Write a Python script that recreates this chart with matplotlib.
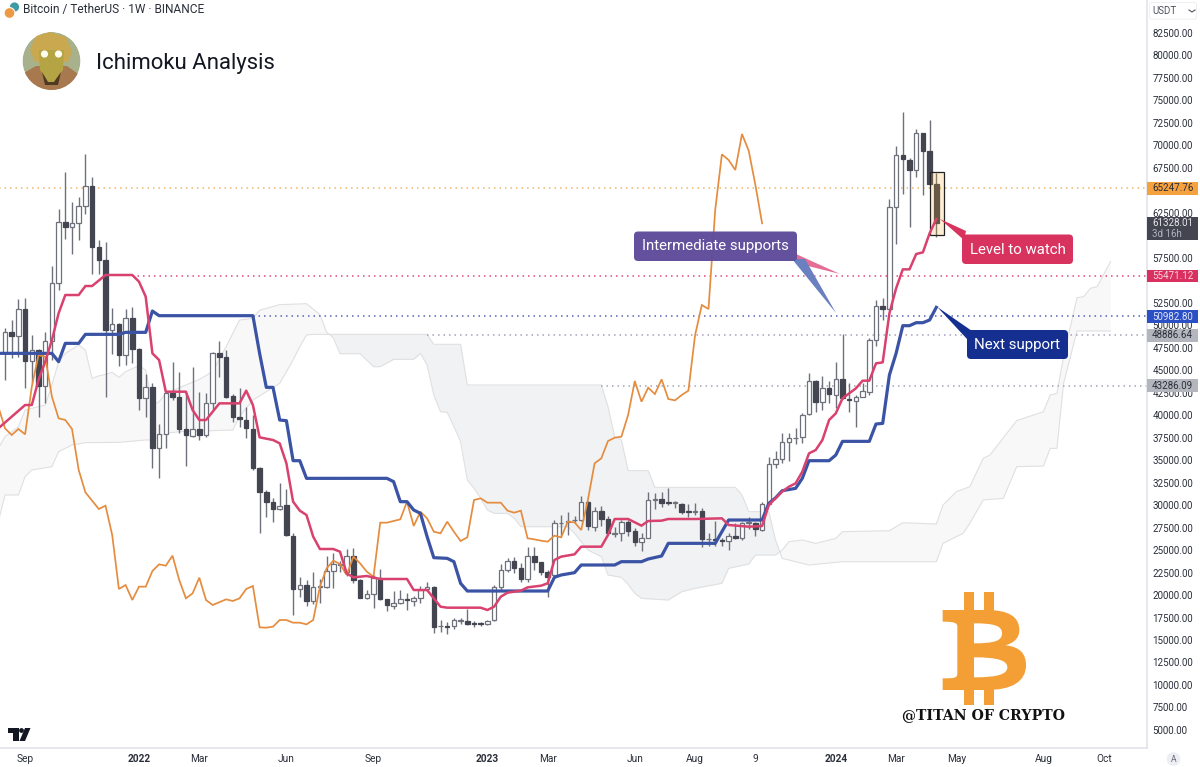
import numpy as np
import matplotlib
matplotlib.use("Agg")
import matplotlib.pyplot as plt
from matplotlib.patches import Circle, FancyBboxPatch, PathPatch, Polygon, Rectangle
from matplotlib.path import Path

plt.rcParams['font.family'] = ['Roboto', 'DejaVu Sans']

# weekly candles, one value per bar
opens = [46877, 49287, 48842, 51807, 46062, 47248, 43244, 48249, 54662, 61520,
         60890, 61335, 63299, 65523, 58665, 57257, 49472, 50102, 46692, 50769,
         47322, 41873, 43096, 36312, 37906, 42429, 42058, 38425, 37721, 38425,
         37795, 41317, 46877, 46432, 42132, 39760, 39463, 38499, 34091, 31422,
         30384, 29531, 29976, 26603, 20672, 21079, 19374, 20931, 20931, 22674,
         23378, 22599, 24379, 21673, 19634, 20078, 21932, 19522, 18818, 19152,
         19522, 19300, 19708, 20672, 20931, 16520, 16557, 16557, 17113, 17150,
         16891, 16854, 16742, 17187, 20931, 22785, 23823, 22970, 21784, 24342,
         23637, 22525, 22229, 27975, 28123, 28308, 28345, 30384, 27604, 29346,
         28493, 26788, 26937, 28160, 27159, 25936, 26380, 30569, 30680, 30310,
         30273, 30125, 29346, 29235, 29346, 26195, 26195, 26084, 26010, 26566,
         26306, 28012, 27975, 27233, 30087, 34568, 35088, 37053, 37424, 37535,
         40093, 43837, 41427, 42984, 42280, 43985, 41761, 41612, 42058, 42613,
         48360, 52141, 51770, 63113, 68933, 68377, 67265, 71343, 69378, 65708]
highs = [49657, 50584, 52883, 52994, 48916, 47400, 49287, 56590, 62928, 67006,
         63744, 64300, 69045, 66450, 59481, 59222, 51956, 50213, 51807, 52067,
         47500, 44541, 43541, 38981, 42600, 45876, 44764, 42614, 45394, 42614,
         42429, 47063, 48249, 47248, 42354, 42985, 40946, 40019, 34276, 31682,
         30755, 32497, 31755, 26862, 21969, 21673, 22599, 21747, 24342, 24712,
         23823, 25120, 25268, 21750, 20560, 22229, 22859, 19600, 20486, 20560,
         20264, 19893, 21042, 21487, 21000, 17224, 17039, 17409, 17484, 18447,
         17150, 17039, 17200, 21116, 23452, 24082, 24268, 23526, 25305, 25305,
         23700, 22785, 28345, 28901, 29198, 28790, 31014, 30450, 29828, 29902,
         28790, 27604, 28345, 28345, 27418, 26862, 31496, 31385, 31496, 31867,
         30495, 30199, 30125, 30273, 29643, 26862, 28234, 26306, 26862, 28049,
         28160, 28642, 28160, 30384, 35314, 36052, 37980, 37980, 38536, 40278,
         44727, 43900, 44356, 43800, 45876, 48990, 43541, 42243, 43541, 48545,
         52808, 52993, 64040, 69971, 73753, 68563, 71788, 71400, 72826, 66969]
lows = [43912, 46321, 46506, 42985, 43541, 39760, 41317, 46136, 53921, 59592,
        57924, 59481, 62372, 55663, 55663, 42058, 46803, 45506, 45580, 45765,
        40575, 39760, 34088, 32976, 36312, 41687, 38054, 34385, 37610, 37239,
        37610, 40575, 44282, 41873, 39278, 38722, 37498, 33902, 26862, 28716,
        28160, 29457, 26600, 17780, 19745, 18781, 19003, 19078, 20800, 20820,
        22599, 22117, 21302, 19634, 19560, 18596, 19448, 18262, 18447, 19003,
        18336, 18781, 19152, 20449, 15741, 15927, 15630, 16223, 16779, 16668,
        16483, 16557, 16700, 17150, 20560, 22599, 22488, 21487, 21487, 22785,
        22229, 19819, 22100, 26492, 26677, 27975, 28250, 27233, 27159, 27678,
        26862, 26492, 26010, 26566, 25454, 24935, 26306, 29568, 29828, 30013,
        29643, 29012, 28642, 28901, 25305, 25454, 25454, 25454, 25009, 26232,
        26121, 27307, 26566, 27159, 30000, 34088, 34644, 34939, 36794, 36868,
        40019, 40389, 40575, 41390, 40760, 41800, 40389, 38646, 41984, 42243,
        47730, 50584, 51700, 59036, 64596, 60889, 66450, 64485, 65600, 59777]
closes = [49287, 48842, 51807, 46062, 47248, 43244, 48249, 54662, 61520, 60890,
          61335, 63299, 65523, 58665, 57257, 49472, 50102, 46692, 50769, 47322,
          41873, 43096, 36312, 37906, 42429, 42058, 38425, 37795, 38425, 37795,
          41317, 46877, 46432, 42058, 39760, 39537, 38536, 34088, 31422, 30384,
          29568, 29939, 26677, 20672, 21079, 19374, 20931, 21005, 22674, 23415,
          23452, 24379, 21673, 19708, 20078, 21932, 19522, 18892, 19152, 19522,
          19411, 19708, 20560, 20931, 16483, 16594, 16446, 17224, 17187, 16779,
          16817, 16779, 17150, 20931, 22785, 23823, 22970, 21784, 24342, 23637,
          22525, 22043, 28049, 28049, 28197, 28382, 30384, 27678, 29346, 28493,
          26937, 26937, 28160, 27159, 25936, 26380, 30569, 30680, 30199, 30236,
          30347, 29272, 29235, 29346, 26269, 26269, 26121, 26010, 26566, 26306,
          28049, 28086, 27307, 30087, 34573, 35088, 37053, 37424, 37498, 40019,
          43837, 41427, 42984, 42354, 43985, 41872, 41650, 42058, 42650, 48360,
          52141, 51770, 63113, 68933, 68451, 67265, 71343, 69378, 65708, 61328]

# ichimoku lines, bar number and value at each vertex
red_bars = [-1, 3, 4, 5, 6, 7, 8, 9, 11, 12, 13, 15, 19, 20, 21, 22, 23, 24, 27, 28, 29, 30,
            32, 35, 36, 37, 38, 40, 41, 42, 43, 44, 45, 46, 47, 49, 50, 51, 52, 54, 56, 60,
            61, 63, 64, 65, 66, 71, 72, 73, 74, 75, 77, 78, 80, 81, 82, 83, 85, 86, 89, 90,
            91, 93, 95, 96, 98, 99, 103, 107, 108, 111, 113, 114, 116, 117, 118, 119, 120,
            121, 122, 123, 124, 125, 126, 127, 128, 129, 130, 131, 132, 133, 134, 135, 136,
            137, 138, 139]
red_line = [38537, 41131, 41131, 43912, 45950, 48360, 51326, 53364, 53364, 54365, 54365, 55589,
            55589, 54847, 53179, 46877, 46136, 42614, 42614, 40575, 39463, 39463, 41317, 41317,
            42725, 41131, 37536, 37242, 36871, 34647, 30384, 29383, 28901, 26492, 25120, 25120,
            24823, 22414, 21969, 22117, 21784, 21784, 20560, 20560, 19634, 18707, 18596, 18596,
            18336, 18707, 19819, 20264, 20486, 20857, 21042, 21302, 23897, 24268, 24527, 25380,
            25380, 26677, 28456, 28456, 27715, 28234, 28271, 28456, 28456, 28530, 27789, 27604,
            27678, 30013, 31500, 32049, 32420, 33717, 35756, 36126, 37239, 39463, 40204, 41872,
            42428, 42984, 43837, 43837, 45765, 45876, 51325, 54105, 56218, 56218, 57924, 58109,
            60222, 61816]
blue_bars = [-1, 7, 8, 9, 11, 12, 17, 18, 21, 22, 23, 37, 38, 39, 40, 41, 42, 43, 44, 45, 57,
             58, 59, 60, 61, 62, 63, 64, 66, 67, 68, 69, 81, 82, 83, 85, 86, 91, 92, 95, 96,
             98, 99, 106, 108, 113, 114, 115, 116, 118, 119, 120, 123, 124, 125, 129, 130,
             131, 132, 133, 134, 135, 136, 137, 138, 139]
blue_line = [46877, 46877, 45950, 47989, 47989, 48990, 48990, 49212, 49212, 51585, 51066, 51066,
             46877, 43096, 43096, 39463, 39389, 34941, 34941, 32976, 32979, 32608, 30384, 30384,
             29457, 29087, 26492, 24156, 24082, 23711, 21302, 20449, 20449, 21969, 22229, 22488,
             23341, 23341, 23711, 23711, 24008, 24342, 25750, 25750, 28345, 28345, 30199, 30800,
             31603, 31864, 32976, 34939, 34939, 35570, 37090, 37090, 39018, 39092, 44467, 46877,
             49954, 49954, 50287, 50287, 50584, 51992]
orange_bars = [-1, 0, 1, 2, 3, 4, 5, 6, 7, 8, 9, 10, 11, 12, 14, 15, 16, 17, 18, 19, 20, 21, 22,
               23, 24, 25, 26, 27, 28, 29, 30, 31, 33, 34, 35, 36, 37, 38, 39, 40, 41, 42, 43,
               44, 45, 46, 47, 48, 49, 50, 51, 52, 53, 54, 55, 56, 57, 58, 59, 60, 61, 62, 63,
               64, 65, 66, 67, 68, 69, 70, 71, 72, 74, 75, 76, 77, 78, 79, 80, 81, 82, 83, 84,
               85, 86, 87, 88, 89, 90, 91, 92, 93, 94, 95, 96, 97, 98, 99, 100, 101, 102, 103,
               104, 105, 106, 107, 108, 109, 110, 111, 112, 113]
orange_line = [40946, 38539, 37798, 38465, 37872, 43170, 46691, 46506, 42058, 39651, 39466, 38465,
               33905, 31422, 29568, 29939, 26677, 20671, 21116, 19448, 20931, 20931, 22673, 23415,
               23266, 24378, 21672, 19633, 20189, 21931, 19448, 18892, 19522, 19337, 19633, 20671,
               21005, 16408, 16371, 16482, 17224, 17224, 16927, 16927, 16742, 17224, 20931, 22970,
               23823, 23452, 22229, 24268, 23526, 22599, 22043, 28049, 28049, 28234, 28419, 30384,
               27678, 29272, 28530, 27048, 26862, 28160, 27048, 26010, 26417, 30569, 30755, 30273,
               30273, 29383, 29161, 29383, 26306, 26195, 26047, 25936, 26602, 26417, 28158, 28084,
               27232, 30568, 34646, 35202, 37127, 37498, 37610, 40018, 43800, 41501, 43058, 42354,
               43985, 41798, 41650, 42243, 42725, 48915, 52252, 51807, 62817, 69008, 68378, 67265,
               71269, 69416, 65597, 61334]
span_a_bars = [-1, 0, 2, 3, 6, 7, 8, 9, 11, 12, 13, 14, 15, 16, 17, 18, 20, 21, 22, 23, 24, 29,
               31, 33, 35, 37, 38, 41, 45, 47, 48, 49, 50, 53, 55, 56, 58, 61, 62, 63, 64, 65,
               66, 67, 68, 69, 70, 71, 72, 73, 75, 76, 77, 84, 85, 87, 89, 90, 92, 93, 94, 95,
               99, 101, 103, 107, 108, 111, 112, 115, 116, 117, 119, 121, 124, 125, 132, 134,
               139, 140, 142, 144, 146, 147, 151, 155, 156, 157, 158, 160, 161, 162, 163, 165]
span_a = [36312, 37611, 38722, 40575, 41131, 43355, 45950, 46877, 47804, 47248, 44097, 44370,
          44541, 44764, 44208, 44838, 45506, 45024, 41131, 41502, 42429, 43985, 44838, 47618,
          50584, 50769, 51677, 52290, 52400, 51195, 49231, 48601, 46840, 46840, 45396, 45396,
          46212, 46212, 46879, 45581, 42245, 40392, 40318, 38723, 37055, 32792, 31866, 30753,
          29456, 29085, 29085, 28529, 27602, 27602, 26862, 25009, 24268, 22229, 21969, 21191,
          20190, 19634, 19448, 20375, 20746, 21302, 22970, 23452, 24453, 24453, 25000, 25934,
          26119, 25748, 26304, 27046, 27157, 28046, 27898, 30011, 31494, 32050, 35201, 35572,
          39390, 40391, 42245, 42430, 46507, 53069, 53180, 54107, 54292, 57073]
span_b_bars = [-1, 0, 2, 3, 4, 7, 8, 10, 12, 17, 21, 22, 24, 26, 34, 35, 37, 39, 41, 43, 44, 45,
               46, 63, 64, 68, 69, 89, 90, 91, 92, 93, 96, 97, 109, 110, 111, 114, 115, 116,
               120, 125, 139, 140, 143, 144, 146, 149, 151, 155, 156, 157, 158, 160, 165]
span_b = [28159, 31125, 31125, 33164, 33905, 34276, 35944, 36686, 36945, 36982, 37242, 37239,
          37980, 38166, 38351, 39833, 41687, 42614, 43541, 46136, 47618, 48916, 48990, 48990,
          47880, 47880, 43357, 43357, 40948, 37611, 37242, 33832, 33832, 31978, 31978, 31125,
          29272, 29272, 26121, 24080, 23339, 23709, 23709, 25748, 26860, 27973, 30568, 30753,
          34274, 34348, 36313, 36313, 43542, 49362, 49362]

# horizontal levels: price, first bar, line colour, badge colour, text colour
level_prices = [65247.76, 55471.12, 50982.80, 48886.64, 43286.09]
level_starts = [-1, 19, 37, 63, 89]
level_colors = ['#f0b76a', '#e04a78', '#5a63b5', '#a99fba', '#a9a3b4']
badge_colors = ['#f5a13d', '#d9305f', '#2b4fc4', '#b4b6bd', '#b4b6bd']
badge_text = ['#2a2e39', '#f7d5df', '#dfe6fb', '#2a2e39', '#2a2e39']

# 65000, 60000 and 55000 sit behind the badges in the reference
price_ticks = [5000, 7500, 10000, 12500, 15000, 17500, 20000, 22500, 25000, 27500, 30000,
               32500, 35000, 37500, 40000, 42500, 45000, 47500, 50000, 52500, 57500, 62500,
               67500, 70000, 72500, 75000, 77500, 80000, 82500]
time_bars = [3, 20, 29, 42, 55, 72, 81, 94, 103, 112, 124, 133, 142, 155, 164]
time_labels = ['Sep', '2022', 'Mar', 'Jun', 'Sep', '2023', 'Mar', 'Jun', 'Aug', '9',
               '2024', 'Mar', 'May', 'Aug', 'Oct']

last_price = 61328.01


def rounded(ax, x0, y0, x1, y1, r, color, z=5, alpha=1.0):
    box = FancyBboxPatch((x0 + r, y0 + r), x1 - x0 - 2 * r, y1 - y0 - 2 * r,
                         boxstyle=f"round,pad={r},rounding_size={r}",
                         fc=color, ec='none', zorder=z, alpha=alpha)
    ax.add_patch(box)


fig = plt.figure(figsize=(12, 7.67), dpi=100, facecolor='white')
ax = fig.add_axes([0, 19 / 767, 1146.5 / 1200, 748 / 767])
ax.set_xlim(-5 / 6.7, 1141.5 / 6.7)
ax.set_ylim(82500 - 715 * 111.2, 82500 + 33 * 111.2)

# cloud
grid = np.union1d(span_a_bars, span_b_bars)
a_vals = np.interp(grid, span_a_bars, span_a)
b_vals = np.interp(grid, span_b_bars, span_b)
ax.fill_between(grid, a_vals, b_vals, where=a_vals >= b_vals, interpolate=True,
                color='#f8f8f9', lw=0, zorder=1)
ax.fill_between(grid, a_vals, b_vals, where=a_vals < b_vals, interpolate=True,
                color='#f1f2f4', lw=0, zorder=1)
ax.plot(span_a_bars, span_a, color='#dfe0e2', lw=0.8, zorder=1.5)
ax.plot(span_b_bars, span_b, color='#dfe0e2', lw=0.8, zorder=1.5)

for price, start, col in zip(level_prices, level_starts, level_colors):
    ax.plot([start, 171], [price, price], color=col, lw=1.1,
            linestyle=(0, (1, 2.6)), zorder=2)

# candles
bars = np.arange(len(closes))
o = np.array(opens)
c = np.array(closes)
up = c >= o
ax.vlines(bars, lows, highs, color='#6e717b', lw=1.0, zorder=3)
ax.bar(bars[up], (c - o)[up], bottom=o[up], width=0.68, color='white',
       edgecolor='#6e717b', linewidth=0.9, zorder=4)
ax.bar(bars[~up], (c - o)[~up], bottom=o[~up], width=0.68, color='#434651',
       edgecolor='#434651', linewidth=0.9, zorder=4)

# highlight around the last candle
ax.add_patch(Rectangle((138.06, 60000), 2.09, 7043, fc=(0.96, 0.65, 0.14, 0.2),
                       ec='#222222', lw=0.9, zorder=4.5))

ax.plot(orange_bars, orange_line, color='#e58c3e', lw=1.25, zorder=5,
        solid_joinstyle='miter')
ax.plot(blue_bars, blue_line, color='#3a53a4', lw=2.3, zorder=6)
ax.plot(red_bars, red_line, color='#d9416f', lw=1.8, zorder=7)

# axes
for side in ['top', 'left']:
    ax.spines[side].set_visible(False)
for side in ['right', 'bottom']:
    ax.spines[side].set_color('#dfe2e8')
    ax.spines[side].set_linewidth(1.1)
ax.yaxis.tick_right()
ax.set_yticks(price_ticks)
ax.set_yticklabels([f"{v:.2f}" for v in price_ticks], fontsize=7.05, color='#2a2e39')
ax.tick_params(axis='y', length=0, pad=4.2)
ax.set_xticks(time_bars)
ax.set_xticklabels(time_labels, fontsize=7.3, color='#2a2e39')
ax.tick_params(axis='x', length=0, pad=4.5)
for lab in ax.get_xticklabels():
    if lab.get_text().startswith('20'):
        lab.set_fontweight('bold')

# pixel overlay for badges, callouts and logos
ov = fig.add_axes([0, 0, 1, 1], facecolor='none')
ov.set_xlim(0, 1200)
ov.set_ylim(767, 0)
ov.axis('off')
fig.canvas.draw()


def price_y(price):
    return 767 - ax.transData.transform((0, price))[1]


for price, col, tcol in zip(level_prices, badge_colors, badge_text):
    y = price_y(price)
    ov.add_patch(Rectangle((1147, y - 6.4), 51, 12.8, fc=col, ec='none', zorder=3))
    ov.text(1152, y + 0.2, f"{price:.2f}", fontsize=7.05, color=tcol, va='center', zorder=4)

ov.add_patch(Rectangle((1147, 217), 51, 23, fc='#434651', ec='none', zorder=3))
ov.text(1152, 222.6, f"{last_price:.2f}", fontsize=7.05, color='#e6e7ea', va='center', zorder=4)
ov.text(1152, 234, "3d 16h", fontsize=7.05, color='#b2b5be', va='center', zorder=4)

# callouts
ov.add_patch(Polygon([(796, 254), (796, 263), (840, 274)], fc='#e56c93', ec='none', zorder=2))
ov.add_patch(Polygon([(792, 259), (805, 259), (836, 313)], fc='#6b80c0', ec='none', zorder=2.5))
rounded(ov, 634, 231.5, 797, 261, 4, '#5f4b9b', z=3, alpha=0.97)
ov.text(715.5, 246, "Intermediate supports", fontsize=10.8, color='white',
        ha='center', va='center', zorder=4)

ov.add_patch(Polygon([(940, 219), (966, 231), (964, 240)], fc='#d8325f', ec='none', zorder=2))
rounded(ov, 962, 234.5, 1073, 264, 4, '#d8325f', z=3)
ov.text(1017.5, 249.5, "Level to watch", fontsize=10.8, color='white',
        ha='center', va='center', zorder=4)

ov.add_patch(Polygon([(937.3, 307), (972, 331), (967, 339)], fc='#142f8f', ec='none', zorder=2))
rounded(ov, 967, 330, 1068, 359, 4, '#142f8f', z=3)
ov.text(1017.5, 345, "Next support", fontsize=10.8, color='white',
        ha='center', va='center', zorder=4)

# header
ov.add_patch(Circle((14.5, 7), 4.6, fc='#3f9aa5', ec='none', zorder=3))
ov.add_patch(Circle((9.5, 13), 5.4, fc='#ee9a45', ec='white', lw=0.8, zorder=4))
ov.text(22.7, 10, "Bitcoin / TetherUS · 1W · BINANCE", fontsize=8.6, color='#2a2e39',
        va='center', zorder=4)
ov.text(95.5, 64, "Ichimoku Analysis", fontsize=15.9, color='#131722',
        va='center', zorder=4)

# avatar
clip = Circle((51.5, 61), 29, transform=ov.transData)
parts = [
    Circle((51.5, 61), 29, fc='#a7b18c', ec='none'),
    Polygon([(22, 74), (36, 66), (67, 66), (81, 76), (70, 92), (34, 92)], fc='#a8794f', ec='none'),
    Polygon([(30, 50), (36, 36), (50, 32), (66, 37), (72, 52), (68, 62), (35, 62)], fc='#c9a84f', ec='none'),
    Polygon([(39, 50), (64, 50), (63, 70), (54, 82), (48, 82), (40, 70)], fc='#b5a444', ec='none'),
    Polygon([(42, 72), (48, 82), (54, 82), (61, 72), (58, 85), (45, 85)], fc='#4e3a22', ec='none'),
    Circle((44.5, 54), 3.6, fc='#fffdf0', ec='none'),
    Circle((58.5, 54), 3.6, fc='#fffdf0', ec='none'),
]
for part in parts:
    part.set_zorder(3)
    ov.add_patch(part)
    part.set_clip_path(clip)

# USDT selector and auto-scale button
rounded(ov, 1149, 2, 1197, 19.5, 3, '#e8eaee', z=3)
rounded(ov, 1149.7, 2.7, 1196.3, 18.8, 2.6, 'white', z=3.1)
ov.text(1152, 10.8, "USDT", fontsize=7, color='#50535e', va='center', zorder=4)
ov.plot([1189, 1192, 1195], [10, 12, 10], color='#50535e', lw=0.8, zorder=4)
ov.add_patch(Circle((1173.5, 759), 6.8, fc='#eceef3', ec='none', zorder=3))
ov.text(1173.5, 759, "A", fontsize=6.2, color='#6a6d78', ha='center', va='center', zorder=4)

# TradingView mark
ov.add_patch(Polygon([(8, 728), (18.5, 728), (18.5, 741), (13, 741), (13, 733), (8, 733)],
                     fc='#131722', ec='none', zorder=3))
ov.add_patch(Circle((21.5, 730.5), 2.4, fc='#131722', ec='none', zorder=3))
ov.add_patch(Polygon([(25, 728), (30.5, 728), (25, 741), (19.5, 741)], fc='#131722', ec='none', zorder=3))


# bitcoin logo
def bz(zx, zy):
    return 880 + zx / 3, 580 + zy / 3


verts, codes = [], []


def shape(points):
    # each item is a line point, or a pair of control+end for a curve
    for i, p in enumerate(points):
        if len(p) == 2:
            verts.append(bz(*p))
            codes.append(Path.MOVETO if i == 0 else Path.LINETO)
        else:
            verts.append(bz(p[0], p[1]))
            verts.append(bz(p[2], p[3]))
            verts.append(bz(p[4], p[5]))
            codes.extend([Path.CURVE4] * 3)
    verts.append(bz(*points[0][:2]))
    codes.append(Path.CLOSEPOLY)


shape([(188, 90), (320, 90), (385, 90, 418, 110, 418, 150), (418, 172, 405, 188, 376, 196),
       (420, 200, 438, 222, 438, 255), (438, 305, 395, 330, 320, 330), (188, 330), (188, 295),
       (222, 295, 232, 295, 232, 280), (232, 140), (232, 128, 222, 125, 188, 125)])
shape([(282, 130), (282, 190), (345, 190, 366, 182, 366, 160), (366, 138, 345, 130, 282, 130)])
shape([(282, 232), (282, 292), (355, 292, 382, 282, 382, 262), (382, 242, 355, 232, 282, 232)])
ov.add_patch(PathPatch(Path(verts, codes), fc='#f49f35', ec='none', zorder=3))
for zx0, zx1, zy0, zy1 in [(252, 282, 37, 95), (312, 342, 37, 95), (252, 282, 325, 375), (312, 342, 325, 375)]:
    x0, y0 = bz(zx0, zy0)
    x1, y1 = bz(zx1, zy1)
    ov.add_patch(Rectangle((x0, y0), x1 - x0, y1 - y0, fc='#f49f35', ec='none', zorder=3))

ov.text(983.5, 715, "@TITAN OF CRYPTO", fontsize=10.2, family='DejaVu Serif', fontweight='bold',
        color='#111111', ha='center', va='center', zorder=4)

fig.savefig("out.png", dpi=100)
